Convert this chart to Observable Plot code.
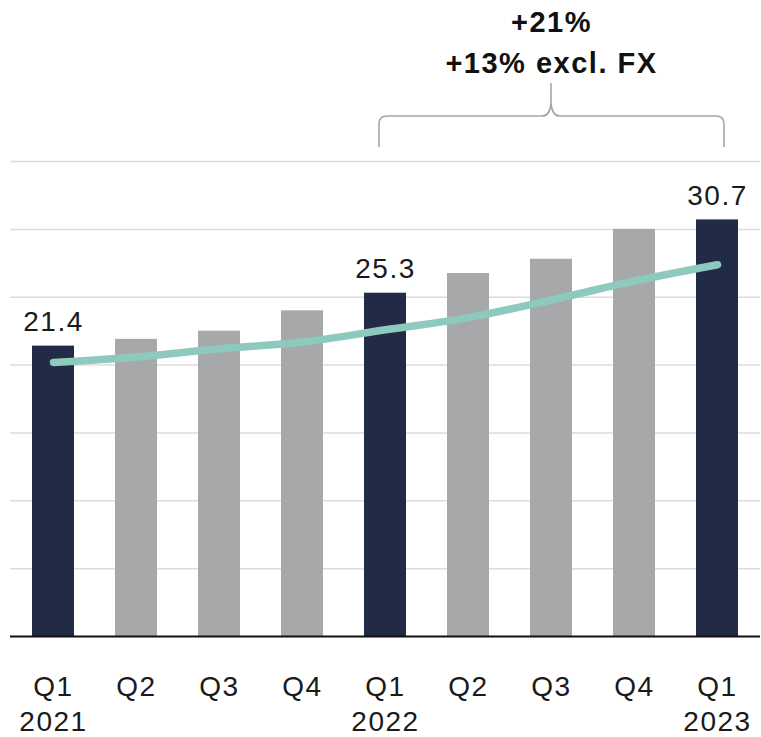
<!DOCTYPE html>
<html>
<head>
<meta charset="utf-8">
<script src="https://cdn.jsdelivr.net/npm/d3@7"></script>
<script src="https://cdn.jsdelivr.net/npm/@observablehq/plot@0.6"></script>
<style>
  html, body { margin: 0; padding: 0; background: #ffffff; }
  #chart svg text { letter-spacing: 1.5px; }
</style>
</head>
<body>
<div id="chart"></div>
<script>
// ---- data ----
const quarters = ["Q1", "Q2", "Q3", "Q4", "Q1", "Q2", "Q3", "Q4", "Q1"];
const years    = ["2021", "2021", "2021", "2021", "2022", "2022", "2022", "2022", "2023"];
const revenue  = [21.4, 21.9, 22.5, 24.0, 25.3, 26.75, 27.8, 30.0, 30.7];
const trend    = [20.2, 20.6, 21.2, 21.7, 22.6, 23.5, 24.8, 26.2, 27.4];
const gridValues = [5, 10, 15, 20, 25, 30, 35];
const growthText = ["+21%", "+13% excl. FX"];
const bracketFrom = "Q1 2022";
const bracketTo = "Q1 2023";
const annotationAt = "Q3 2022";

const data = quarters.map((q, i) => ({
  key: q + " " + years[i],
  quarter: q,
  year: years[i],
  value: revenue[i],
  trend: trend[i],
  highlight: q === "Q1"
}));

const navy = "#222b45";
const grey = "#a7a8aa";
const teal = "#8ec9bd";

const chart = Plot.plot({
  width: 761,
  height: 737,
  marginTop: 0,
  marginBottom: 101,
  marginLeft: 10,
  marginRight: 1,
  style: { fontFamily: "'Liberation Sans', Arial, sans-serif", background: "#ffffff", color: "#1a1a1a" },
  x: { type: "band", domain: data.map(d => d.key), paddingInner: 0.5, paddingOuter: 0.25, axis: null },
  y: { domain: [0, 46.87], axis: null },
  marks: [
    Plot.ruleY(gridValues, { stroke: "#dcdcdc", strokeWidth: 1.5 }),
    Plot.barY(data, { x: "key", y: "value", fill: d => d.highlight ? navy : grey }),
    Plot.ruleY([0], { stroke: "#111111", strokeWidth: 2 }),
    Plot.line(data, { x: "key", y: "trend", stroke: teal, strokeWidth: 7.5, strokeLinecap: "round", strokeLinejoin: "round", curve: "monotone-x" }),
    Plot.text(data.filter(d => d.highlight), {
      x: "key", y: "value", text: d => d.value.toFixed(1),
      lineAnchor: "bottom", dy: -15, fontSize: 28, fill: "#1a1a1a"
    }),
    Plot.text(data, {
      x: "key", frameAnchor: "bottom",
      text: d => d.highlight ? d.quarter + "\n" + d.year : d.quarter,
      lineAnchor: "top", dy: 34, fontSize: 28, lineHeight: 1.27, fill: "#1a1a1a"
    }),
    Plot.text([growthText.join("\n")], {
      x: () => annotationAt, y: () => 41.5, text: d => d,
      lineAnchor: "bottom", lineHeight: 1.42, fontSize: 29, fontWeight: "bold", fill: "#111111"
    })
  ]
});

// curly bracket drawn from the plot's own scales
(function addBracket() {
  const sx = chart.scale("x");
  const sy = chart.scale("y");
  const half = (sx.bandwidth || 0) / 2;
  const xl = sx.apply(bracketFrom) + half - 6;
  const xr = sx.apply(bracketTo) + half + 7;
  const xm = sx.apply(annotationAt) + half;
  const yTop = sy.apply(35);
  const yb = yTop - 14;   // bottom of legs
  const yh = yTop - 45;   // horizontal bar
  const yt = yTop - 78;   // tip
  const r = 8;
  const path = [
    `M${xl},${yb}`,
    `L${xl},${yh + r}`,
    `Q${xl},${yh} ${xl + r},${yh}`,
    `L${xm - 9},${yh}`,
    `Q${xm - 1},${yh} ${xm},${yh - 13}`,
    `L${xm},${yt}`,
    `M${xm},${yh - 13}`,
    `Q${xm + 1},${yh} ${xm + 9},${yh}`,
    `L${xr - r},${yh}`,
    `Q${xr},${yh} ${xr},${yh + r}`,
    `L${xr},${yb}`
  ].join(" ");
  d3.select(chart).append("path")
    .attr("d", path)
    .attr("fill", "none")
    .attr("stroke", "#a6a6a6")
    .attr("stroke-width", 1.6);
})();

document.getElementById("chart").appendChild(chart);
</script>
</body>
</html>
